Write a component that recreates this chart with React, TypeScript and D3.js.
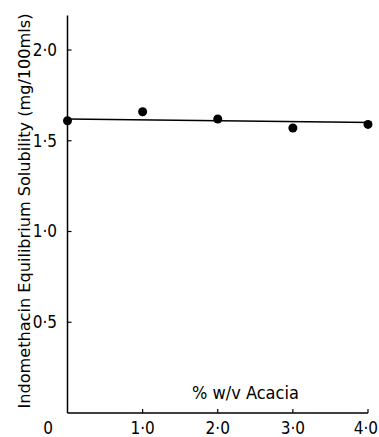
import React from "react";
import * as d3 from "d3";

// % w/v acacia vs indomethacin solubility
const acacia = [0, 1, 2, 3, 4];
const solubility = [1.61, 1.66, 1.62, 1.57, 1.59];
// fitted line end points
const fitX = [0, 4.05];
const fitY = [1.62, 1.6];
const yTicks = [0.5, 1.0, 1.5, 2.0];
const yTickLabels = ["0·5", "1·0", "1·5", "2·0"];
const xTicks = [0, 1, 2, 3, 4];
const xTickLabels = ["0", "1·0", "2·0", "3·0", "4·0"];

const W = 379;
const H = 437;
const font = "'DejaVu Sans Condensed', 'Liberation Sans Narrow', sans-serif";

const App = () => {
  const x = d3.scaleLinear().domain([0, 4]).range([67.5, 368]);
  const y = d3.scaleLinear().domain([0, 2]).range([413, 50]);

  const line = d3
    .line<number>()
    .x((d) => x(d))
    .y((d, i) => y(fitY[i]));

  return (
    <div style={{ position: "absolute", left: 0, top: 0 }}>
      <svg width={W} height={H} style={{ display: "block", background: "#fff" }}>
        {/* axes */}
        <line x1={x(0)} x2={x(0)} y1={y(2.19)} y2={y(0)} stroke="#000" strokeWidth={1.5} />
        <line x1={x(0)} x2={x(4)} y1={y(0)} y2={y(0)} stroke="#000" strokeWidth={1.5} />

        {yTicks.map((t, i) => (
          <g key={"y" + t}>
            <line x1={x(0)} x2={x(0) + 4} y1={y(t)} y2={y(t)} stroke="#000" strokeWidth={1.2} />
            <text
              x={57}
              y={y(t)}
              dy="0.35em"
              textAnchor="end"
              fontFamily={font}
              fontSize={17}
            >
              {yTickLabels[i]}
            </text>
          </g>
        ))}

        {xTicks.map((t, i) => (
          <g key={"x" + t}>
            {t > 0 && (
              <line x1={x(t)} x2={x(t)} y1={y(0)} y2={y(0) - 4} stroke="#000" strokeWidth={1.2} />
            )}
            <text
              x={t === 0 ? 48 : t === 4 ? 378 : x(t)}
              y={434}
              textAnchor={t === 4 ? "end" : "middle"}
              fontFamily={font}
              fontSize={17}
            >
              {xTickLabels[i]}
            </text>
          </g>
        ))}

        <text x={192} y={399} fontFamily={font} fontSize={18}>
          % w/v Acacia
        </text>

        <text
          transform={`translate(30,211) rotate(-90)`}
          textAnchor="middle"
          fontFamily={font}
          fontSize={16}
          textLength={395}
          lengthAdjust="spacingAndGlyphs"
        >
          Indomethacin Equilibrium Solubility (mg/100mls)
        </text>

        <path d={line(fitX) || ""} fill="none" stroke="#000" strokeWidth={1.5} />

        {acacia.map((a, i) => (
          <circle key={a} cx={x(a)} cy={y(solubility[i])} r={4.5} fill="#000" />
        ))}
      </svg>
    </div>
  );
};

export default App;
